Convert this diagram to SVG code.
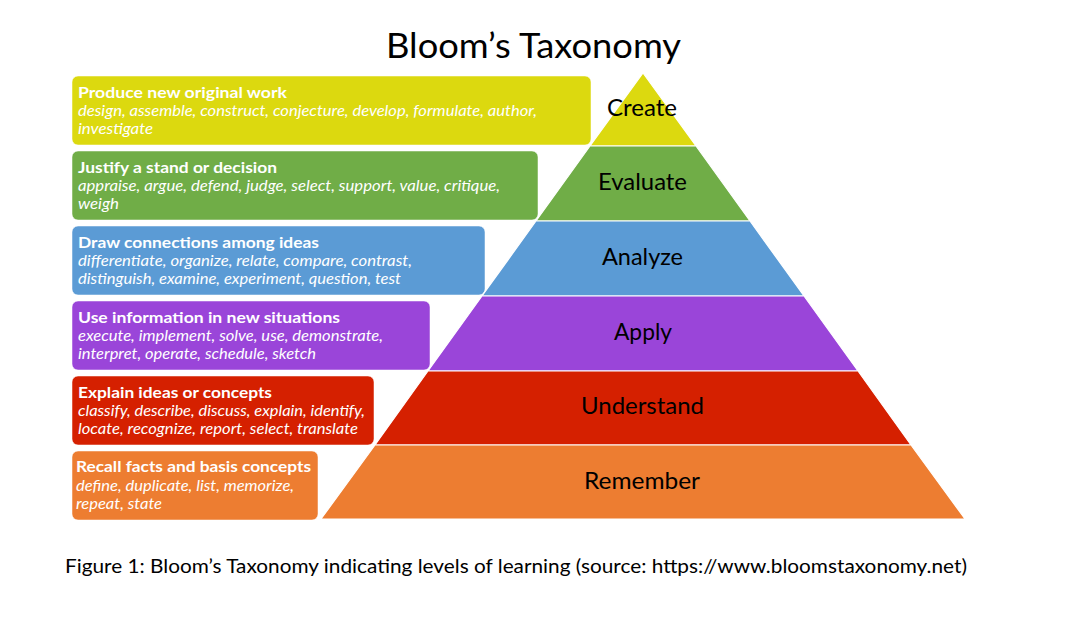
<svg xmlns="http://www.w3.org/2000/svg" width="1078" height="632" viewBox="0 0 1078 632">
<style>
text{font-family:Lato,"Open Sans","Liberation Sans",sans-serif}
.h{font-weight:bold;font-size:16px;fill:#fff}
.i{font-style:italic;font-size:15px;fill:#fff}
.lbl{font-size:23px;fill:#000;text-anchor:middle}
.box{stroke:#fff;stroke-opacity:0.5;stroke-width:1}
.band{stroke:#fff;stroke-width:1.2}
</style>
<rect width="1078" height="632" fill="#fff"/>
<text x="533.5" y="58" font-size="35" text-anchor="middle" textLength="295" lengthAdjust="spacingAndGlyphs" fill="#000">Bloom’s Taxonomy</text>
<g id="create">
<rect class="box" x="72" y="76" width="519" height="69" rx="6" fill="#DCD90F"/>
<polygon class="band" points="643,73 696,146 590,146" fill="#DCD90F"/>
<text class="lbl" x="642" y="116" textLength="70" lengthAdjust="spacingAndGlyphs">Create</text>
<text class="h" x="78" y="98" textLength="209" lengthAdjust="spacingAndGlyphs">Produce new original work</text>
<text class="i" x="78" y="115.5" textLength="459" lengthAdjust="spacingAndGlyphs">design, assemble, construct, conjecture, develop, formulate, author,</text>
<text class="i" x="78" y="133.5" textLength="75" lengthAdjust="spacingAndGlyphs">investigate</text>
</g>
<g id="evaluate">
<rect class="box" x="72" y="151" width="466" height="69" rx="6" fill="#70AD47"/>
<polygon class="band" points="590,146 696,146 750,221 536,221" fill="#70AD47"/>
<text class="lbl" x="642.5" y="190" textLength="89" lengthAdjust="spacingAndGlyphs">Evaluate</text>
<text class="h" x="78" y="173" textLength="199" lengthAdjust="spacingAndGlyphs">Justify a stand or decision</text>
<text class="i" x="78" y="190.5" textLength="422" lengthAdjust="spacingAndGlyphs">appraise, argue, defend, judge, select, support, value, critique,</text>
<text class="i" x="78" y="208.5" textLength="41" lengthAdjust="spacingAndGlyphs">weigh</text>
</g>
<g id="analyze">
<rect class="box" x="72" y="226" width="413" height="69" rx="6" fill="#5B9BD5"/>
<polygon class="band" points="536,221 750,221 804,296 482,296" fill="#5B9BD5"/>
<text class="lbl" x="642.5" y="265" textLength="81" lengthAdjust="spacingAndGlyphs">Analyze</text>
<text class="h" x="78" y="248" textLength="241" lengthAdjust="spacingAndGlyphs">Draw connections among ideas</text>
<text class="i" x="78" y="265.5" textLength="334" lengthAdjust="spacingAndGlyphs">differentiate, organize, relate, compare, contrast,</text>
<text class="i" x="78" y="283.5" textLength="323" lengthAdjust="spacingAndGlyphs">distinguish, examine, experiment, question, test</text>
</g>
<g id="apply">
<rect class="box" x="72" y="301" width="358" height="69" rx="6" fill="#9A45D9"/>
<polygon class="band" points="482,296 804,296 858,371 428,371" fill="#9A45D9"/>
<text class="lbl" x="643" y="340" textLength="58" lengthAdjust="spacingAndGlyphs">Apply</text>
<text class="h" x="78" y="323" textLength="262" lengthAdjust="spacingAndGlyphs">Use information in new situations</text>
<text class="i" x="78" y="340.5" textLength="305" lengthAdjust="spacingAndGlyphs">execute, implement, solve, use, demonstrate,</text>
<text class="i" x="78" y="358.5" textLength="238" lengthAdjust="spacingAndGlyphs">interpret, operate, schedule, sketch</text>
</g>
<g id="understand">
<rect class="box" x="72" y="376" width="302" height="69" rx="6" fill="#D52000"/>
<polygon class="band" points="428,371 858,371 911,445 375,445" fill="#D52000"/>
<text class="lbl" x="642.5" y="414" textLength="123" lengthAdjust="spacingAndGlyphs">Understand</text>
<text class="h" x="78" y="398" textLength="194" lengthAdjust="spacingAndGlyphs">Explain ideas or concepts</text>
<text class="i" x="78" y="415.5" textLength="287" lengthAdjust="spacingAndGlyphs">classify, describe, discuss, explain, identify,</text>
<text class="i" x="78" y="433.5" textLength="280" lengthAdjust="spacingAndGlyphs">locate, recognize, report, select, translate</text>
</g>
<g id="remember">
<rect class="box" x="72" y="451" width="246" height="69" rx="6" fill="#ED7D31"/>
<polygon class="band" points="375,445 911,445 965,519 321,519" fill="#ED7D31"/>
<text class="lbl" x="642" y="489" textLength="116" lengthAdjust="spacingAndGlyphs">Remember</text>
<text class="h" x="76" y="472" textLength="235" lengthAdjust="spacingAndGlyphs">Recall facts and basis concepts</text>
<text class="i" x="76" y="490.5" textLength="218" lengthAdjust="spacingAndGlyphs">define, duplicate, list, memorize,</text>
<text class="i" x="76" y="508.5" textLength="86" lengthAdjust="spacingAndGlyphs">repeat, state</text>
</g>
<g id="connectors"></g>
<text x="65" y="573" font-size="19.5" textLength="902" lengthAdjust="spacingAndGlyphs" fill="#000">Figure 1: Bloom’s Taxonomy indicating levels of learning (source: https://www.bloomstaxonomy.net)</text>
</svg>
